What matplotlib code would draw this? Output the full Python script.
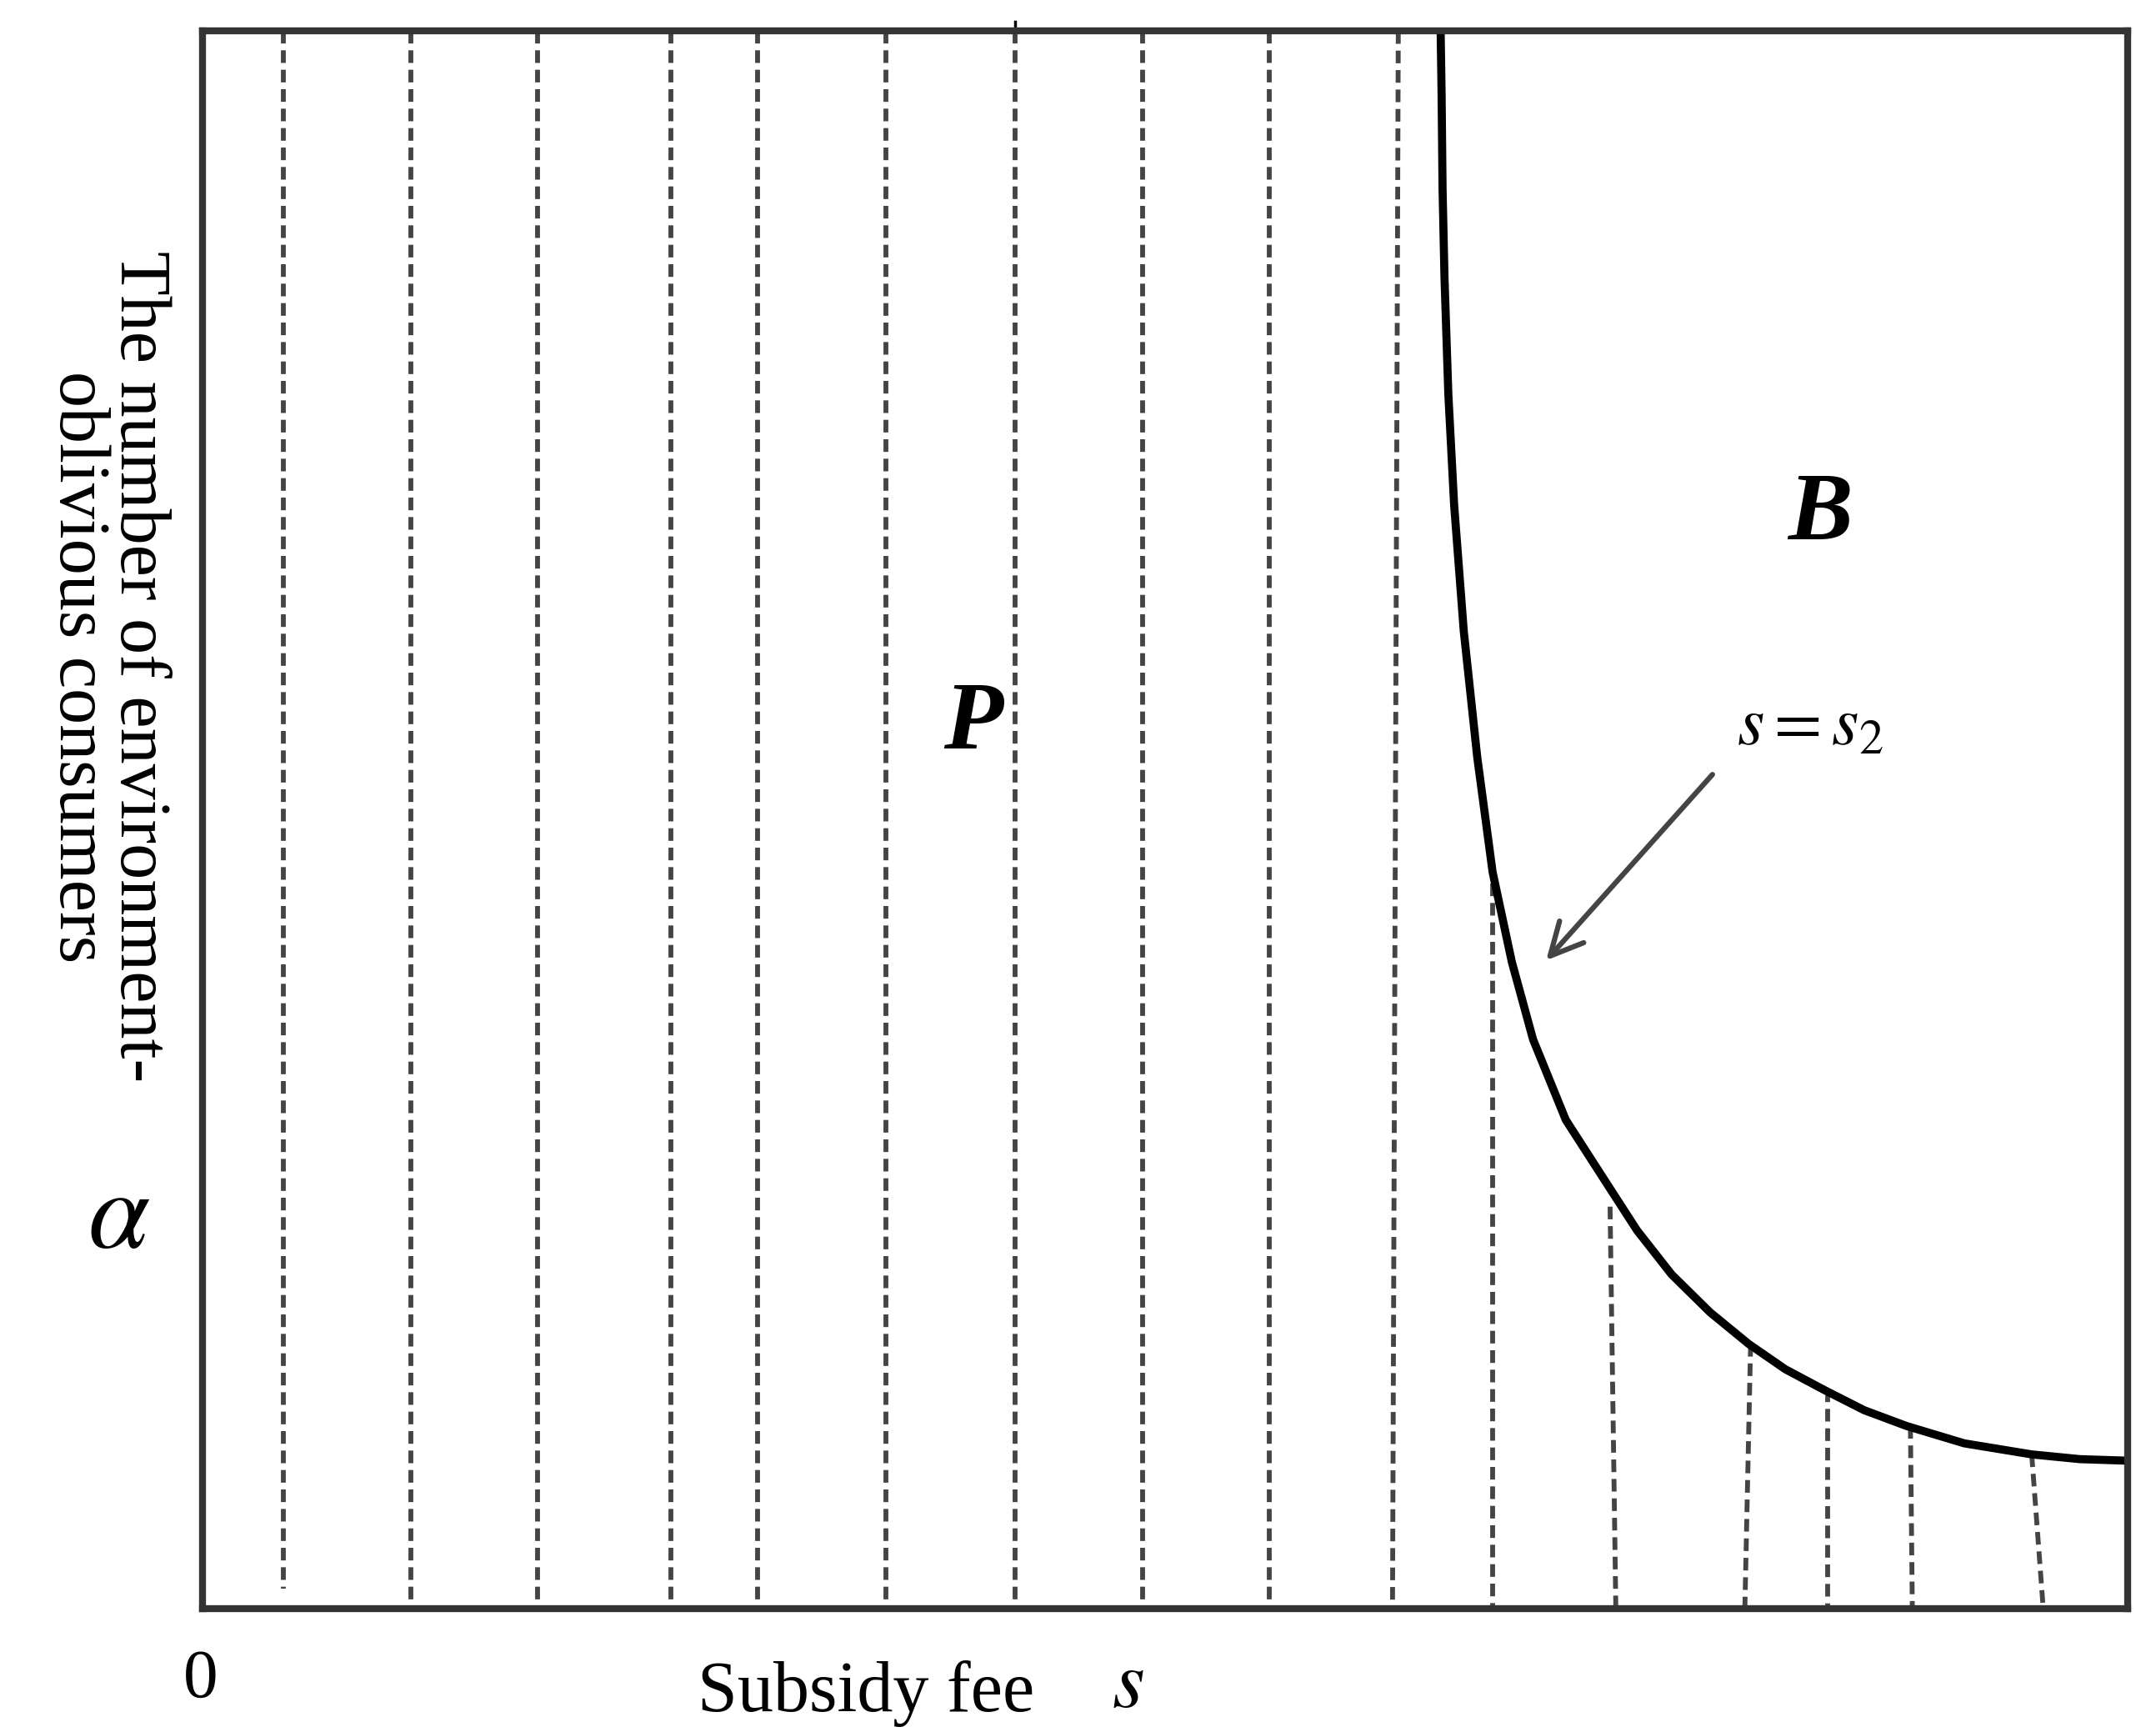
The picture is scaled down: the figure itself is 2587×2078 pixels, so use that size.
import matplotlib.pyplot as plt

# boundary curve s = s2 (axes fractions)
curve_x = [0.643, 0.6435, 0.644, 0.645, 0.647, 0.650, 0.655, 0.662, 0.670, 0.680, 0.691,
           0.708, 0.727, 0.745, 0.763, 0.783, 0.803, 0.822, 0.842, 0.863, 0.885, 0.915,
           0.950, 0.975, 1.0]
curve_y = [1.0, 0.96, 0.90, 0.844, 0.77, 0.70, 0.62, 0.54, 0.467, 0.41, 0.361,
           0.31, 0.274, 0.24, 0.212, 0.188, 0.168, 0.152, 0.139, 0.126, 0.116, 0.105,
           0.098, 0.095, 0.094]

# dashed hatch lines: top x, bottom x, top y, bottom y
hatch_x_top = [0.042, 0.108, 0.174, 0.243, 0.288, 0.355, 0.422, 0.488, 0.554, 0.621,
               0.670, 0.731, 0.804, 0.844, 0.887, 0.950]
hatch_x_bot = [0.042, 0.108, 0.174, 0.243, 0.288, 0.355, 0.422, 0.488, 0.554, 0.618,
               0.670, 0.734, 0.801, 0.844, 0.888, 0.956]
hatch_y_top = [1.0] * 10 + [0.46, 0.255, 0.168, 0.139, 0.116, 0.098]
hatch_y_bot = [0.013] + [0.0] * 15

plt.rcParams['font.family'] = ['Liberation Serif', 'DejaVu Serif']
plt.rcParams['mathtext.fontset'] = 'stix'

fig = plt.figure(figsize=(25.87, 20.78), dpi=100)
ax = fig.add_axes([0.094, 0.071, 0.893, 0.911])
ax.set_xlim(0, 1)
ax.set_ylim(0, 1)
ax.set_xticks([])
ax.set_yticks([])
for sp in ax.spines.values():
    sp.set_linewidth(6)
    sp.set_color('#333333')

for xt, xb, yt, yb in zip(hatch_x_top, hatch_x_bot, hatch_y_top, hatch_y_bot):
    ax.plot([xt, xb], [yt, yb], linestyle=(0, (2.6, 1.4)), color='#444444', lw=4.2)

ax.plot(curve_x, curve_y, color='black', lw=7, solid_capstyle='butt', solid_joinstyle='round')
ax.plot([0.422, 0.422], [1.0, 1.006], color='black', lw=2.5, clip_on=False)

ax.text(0.4, 0.56, 'P', fontsize=84, fontweight='bold', style='italic', ha='center', va='center')
ax.text(0.84, 0.693, 'B', fontsize=84, fontweight='bold', style='italic', ha='center', va='center')
ax.text(0.835, 0.56, r'$s = s_{2}$', fontsize=60, ha='center', va='center', family='DejaVu Sans')
ax.annotate('', xy=(0.697, 0.41), xytext=(0.785, 0.53),
            arrowprops=dict(arrowstyle='->', color='#444444', lw=4.5, mutation_scale=70))

fig.text(0.093, 0.03, '0', fontsize=60, ha='center', va='center')
fig.text(0.41, 0.022, 'Subsidy fee  ', fontsize=62, ha='center', va='center')
fig.text(0.523, 0.026, r'$s$', fontsize=72, ha='center', va='center')
fig.text(0.05, 0.615, 'The number of environment-\noblivious consumers', fontsize=62,
         rotation=-90, ha='center', va='center', linespacing=0.9)
fig.text(0.055, 0.295, r'$\alpha$', fontsize=96, ha='center', va='center')

fig.savefig('out.png', dpi=100)
